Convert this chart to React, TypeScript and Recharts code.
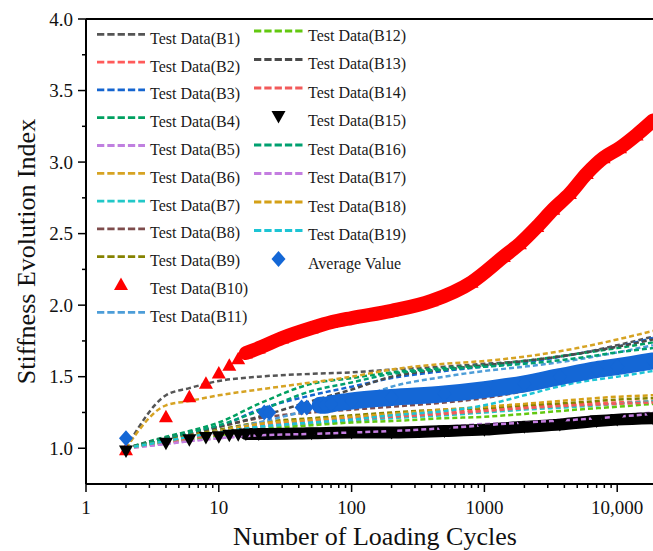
import React from "react";
import { ComposedChart, Line, XAxis, YAxis, ReferenceLine, Label } from "recharts";

// Loading cycles shared by the dashed test curves
const cycles = [2, 4, 6, 10, 20, 50, 100, 200, 500, 1000, 2000, 5000, 10000, 18600];

const b1 = [1.0, 1.37, 1.42, 1.47, 1.5, 1.52, 1.53, 1.55, 1.57, 1.59, 1.61, 1.66, 1.72, 1.78];
const b2 = [1.0, 1.05, 1.07, 1.11, 1.16, 1.19, 1.21, 1.23, 1.25, 1.27, 1.29, 1.31, 1.32, 1.33];
const b3 = [1.0, 1.06, 1.1, 1.15, 1.27, 1.37, 1.43, 1.49, 1.54, 1.57, 1.6, 1.66, 1.71, 1.77];
const b4 = [1.0, 1.08, 1.12, 1.18, 1.31, 1.45, 1.49, 1.53, 1.56, 1.58, 1.61, 1.66, 1.7, 1.74];
const b5 = [1.0, 1.03, 1.05, 1.07, 1.09, 1.11, 1.12, 1.13, 1.15, 1.17, 1.18, 1.21, 1.23, 1.25];
const b6 = [1.0, 1.3, 1.33, 1.37, 1.41, 1.46, 1.5, 1.55, 1.59, 1.61, 1.64, 1.7, 1.76, 1.82];
const b7 = [1.0, 1.05, 1.07, 1.1, 1.14, 1.17, 1.19, 1.21, 1.23, 1.25, 1.27, 1.29, 1.31, 1.33];
const b8 = [1.0, 1.07, 1.1, 1.15, 1.21, 1.25, 1.27, 1.29, 1.32, 1.35, 1.4, 1.48, 1.55, 1.6];
const b9 = [1.0, 1.06, 1.09, 1.13, 1.18, 1.21, 1.23, 1.25, 1.27, 1.28, 1.3, 1.32, 1.34, 1.35];
const b11 = [1.0, 1.05, 1.08, 1.12, 1.18, 1.27, 1.33, 1.43, 1.5, 1.54, 1.57, 1.62, 1.67, 1.72];
const b12 = [1.0, 1.04, 1.06, 1.09, 1.13, 1.16, 1.18, 1.19, 1.21, 1.22, 1.24, 1.27, 1.29, 1.31];
const b13 = [1.0, 1.07, 1.11, 1.15, 1.22, 1.33, 1.41, 1.5, 1.55, 1.58, 1.61, 1.66, 1.71, 1.76];
const b14 = [1.0, 1.04, 1.07, 1.1, 1.15, 1.18, 1.2, 1.22, 1.24, 1.26, 1.28, 1.3, 1.31, 1.32];
const b16 = [1.0, 1.07, 1.11, 1.16, 1.26, 1.4, 1.46, 1.52, 1.55, 1.57, 1.59, 1.63, 1.67, 1.7];
const b17 = [1.0, 1.03, 1.05, 1.07, 1.09, 1.1, 1.11, 1.12, 1.14, 1.16, 1.18, 1.2, 1.22, 1.24];
const b18 = [1.0, 1.05, 1.08, 1.12, 1.17, 1.2, 1.22, 1.24, 1.27, 1.29, 1.31, 1.34, 1.36, 1.37];
const b19 = [1.0, 1.05, 1.08, 1.11, 1.15, 1.18, 1.2, 1.23, 1.26, 1.3, 1.37, 1.46, 1.5, 1.54];

// B10 (red triangles)
const b10Cycles = [2, 4, 6, 8, 10, 12, 14, 16, 20, 30, 50, 70, 100, 200, 400, 800, 1400, 1850, 2500, 3300, 4400, 5900, 7900, 10500, 14000, 18600];
const b10 = [0.99, 1.22, 1.36, 1.455, 1.525, 1.58, 1.625, 1.665, 1.7, 1.77, 1.84, 1.88, 1.91, 1.96, 2.03, 2.16, 2.34, 2.43, 2.55, 2.67, 2.78, 2.92, 3.03, 3.1, 3.19, 3.29];

// B15 (black down triangles)
const b15Cycles = [2, 4, 6, 8, 10, 12, 14, 16, 20, 50, 100, 200, 500, 1000, 2000, 3700, 7000, 10000, 18600];
const b15 = [0.98, 1.035, 1.06, 1.075, 1.08, 1.09, 1.095, 1.1, 1.1, 1.105, 1.11, 1.11, 1.12, 1.13, 1.15, 1.165, 1.19, 1.2, 1.21];

// Average value (blue diamonds)
const avgCycles = [2, 22, 24, 42, 46, 58, 63, 70, 100, 200, 500, 1000, 2000, 3700, 7000, 10000, 18600];
const avg = [1.07, 1.25, 1.25, 1.285, 1.285, 1.3, 1.3, 1.31, 1.33, 1.355, 1.38, 1.41, 1.45, 1.5, 1.55, 1.57, 1.61];

const xLabels: Record<number, string> = { 1: "1", 10: "10", 100: "100", 1000: "1000", 10000: "10,000" };
const yTicks = [1.0, 1.25, 1.5, 1.75, 2.0, 2.25, 2.5, 2.75, 3.0, 3.25, 3.5, 3.75, 4.0];

const xTicks: number[] = [];
for (const decade of [1, 10, 100, 1000]) {
  for (let k = 1; k < 10; k++) xTicks.push(decade * k);
}
xTicks.push(10000);

const FONT = "'Liberation Serif', 'Times New Roman', serif";

const toPoints = (ns: number[], vs: number[]) => ns.map((n, i) => ({ n, v: vs[i] }));

type Kind = "dash" | "up" | "down" | "diamond";
interface Item {
  name: string;
  kind: Kind;
  color: string;
  data: { n: number; v: number }[];
  band?: number; // index where the dense band starts
  width?: number;
}

const dash = (name: string, color: string, vs: number[]): Item => ({
  name,
  kind: "dash",
  color,
  data: toPoints(cycles, vs),
});

// Plot order (later items on top)
const items: Item[] = [
  dash("Test Data(B1)", "#555555", b1),
  dash("Test Data(B2)", "#ff5a5a", b2),
  dash("Test Data(B3)", "#1565d0", b3),
  dash("Test Data(B4)", "#00a060", b4),
  dash("Test Data(B5)", "#c080e0", b5),
  dash("Test Data(B6)", "#d6a323", b6),
  dash("Test Data(B7)", "#22c8c8", b7),
  dash("Test Data(B8)", "#7e4c4c", b8),
  dash("Test Data(B9)", "#858200", b9),
  { name: "Test Data(B10)", kind: "up", color: "#ff0000", data: toPoints(b10Cycles, b10), band: 7, width: 14 },
  dash("Test Data(B11)", "#4d9dd8", b11),
  dash("Test Data(B12)", "#62c810", b12),
  dash("Test Data(B13)", "#4a4a4a", b13),
  dash("Test Data(B14)", "#f25a5a", b14),
  { name: "Test Data(B15)", kind: "down", color: "#000000", data: toPoints(b15Cycles, b15), band: 7, width: 12 },
  dash("Test Data(B16)", "#00a070", b16),
  dash("Test Data(B17)", "#c47ee0", b17),
  dash("Test Data(B18)", "#d4a017", b18),
  dash("Test Data(B19)", "#1cc4d4", b19),
  { name: "Average Value", kind: "diamond", color: "#1467d6", data: toPoints(avgCycles, avg), band: 5, width: 17 },
];

function marker(kind: Kind, cx: number, cy: number, color: string, key?: React.Key) {
  let pts = "";
  if (kind === "up") pts = `${cx},${cy - 7} ${cx + 7},${cy + 5.5} ${cx - 7},${cy + 5.5}`;
  else if (kind === "down") pts = `${cx},${cy + 7} ${cx + 7},${cy - 5.5} ${cx - 7},${cy - 5.5}`;
  else pts = `${cx},${cy - 8} ${cx + 7},${cy} ${cx},${cy + 8} ${cx - 7},${cy}`;
  return <polygon key={key} points={pts} fill={color} />;
}

function XTick({ x, y, payload }: any) {
  const label = xLabels[payload.value];
  const major = label !== undefined;
  return (
    <g>
      <line x1={x} x2={x} y1={y} y2={y + (major ? 8 : 4)} stroke="#000" strokeWidth={1.5} />
      {major && (
        <text x={x} y={y + 30} textAnchor="middle" fontSize={19} fontFamily={FONT} fill="#111">
          {label}
        </text>
      )}
    </g>
  );
}

function YTick({ x, y, payload }: any) {
  const v = payload.value as number;
  const major = Math.abs(v * 2 - Math.round(v * 2)) < 1e-6;
  return (
    <g>
      <line x1={x - (major ? 8 : 4)} x2={x} y1={y} y2={y} stroke="#000" strokeWidth={1.5} />
      {major && (
        <text x={x - 13} y={y + 6.5} textAnchor="end" fontSize={19} fontFamily={FONT} fill="#111">
          {v.toFixed(1)}
        </text>
      )}
    </g>
  );
}

function XTitle({ viewBox }: any) {
  return (
    <text x={viewBox.x + 289} y={viewBox.y + 61} textAnchor="middle" fontSize={26} fontFamily={FONT} fill="#111">
      Number of Loading Cycles
    </text>
  );
}

function YTitle({ viewBox }: any) {
  const cx = 35;
  const cy = viewBox.y + viewBox.height / 2;
  return (
    <text
      x={cx}
      y={cy}
      transform={`rotate(-90, ${cx}, ${cy})`}
      textAnchor="middle"
      fontSize={26}
      fontFamily={FONT}
      fill="#111"
    >
      Stiffness Evolution Index
    </text>
  );
}

function renderSeries(it: Item) {
  if (it.kind === "dash") {
    return (
      <Line
        key={it.name}
        data={it.data}
        dataKey="v"
        type="monotone"
        stroke={it.color}
        strokeWidth={2.5}
        strokeDasharray="5 3"
        dot={false}
        activeDot={false}
        isAnimationActive={false}
      />
    );
  }
  const sparse = it.data.slice(0, it.band);
  const dense = it.data.slice(it.band);
  const dot = (p: any) => marker(it.kind, p.cx, p.cy, it.color, `${it.name}-${p.index}`);
  return [
    <Line
      key={`${it.name}-sparse`}
      data={sparse}
      dataKey="v"
      stroke="none"
      dot={dot}
      activeDot={false}
      isAnimationActive={false}
    />,
    <Line
      key={`${it.name}-band`}
      data={dense}
      dataKey="v"
      type="monotone"
      stroke={it.color}
      strokeWidth={it.width}
      strokeLinejoin="round"
      strokeLinecap="round"
      dot={dot}
      activeDot={false}
      isAnimationActive={false}
    />,
  ];
}

function LegendOverlay() {
  const col1 = items.slice(0, 11);
  const col2 = items.slice(11);
  const row = (it: Item, x0: number, x1: number, tx: number, y: number) => (
    <g key={it.name}>
      {it.kind === "dash" ? (
        <line x1={x0} x2={x1} y1={y} y2={y} stroke={it.color} strokeWidth={2.8} strokeDasharray="7.3 3" />
      ) : (
        marker(it.kind, (x0 + x1) / 2, y, it.color)
      )}
      <text x={tx} y={y + 9.5} fontSize={16} fontFamily={FONT} fill="#1a1a1a">
        {it.name}
      </text>
    </g>
  );
  return (
    <svg width={653} height={551} style={{ position: "absolute", left: 0, top: 0, pointerEvents: "none" }}>
      {col1.map((it, i) => row(it, 97, 145, 150, 34.3 + 27.8 * i))}
      {col2.map((it, i) => row(it, 254, 303, 308, 31 + 28.5 * i))}
    </svg>
  );
}

export default function App() {
  return (
    <div style={{ position: "fixed", left: 0, top: 0, width: 653, height: 551, background: "#fff" }}>
      <ComposedChart width={653} height={551} margin={{ top: 19, right: 0, bottom: 0, left: 0 }}>
        <XAxis
          dataKey="n"
          type="number"
          scale="log"
          domain={[1, 18600]}
          allowDataOverflow
          ticks={xTicks}
          interval={0}
          height={67}
          tickSize={0}
          tickMargin={0}
          tick={<XTick />}
          tickLine={false}
          axisLine={{ stroke: "#000", strokeWidth: 2 }}
        >
          <Label content={<XTitle />} />
        </XAxis>
        <YAxis
          type="number"
          domain={[0.75, 4.0]}
          allowDataOverflow
          ticks={yTicks}
          interval={0}
          width={86}
          tickSize={0}
          tickMargin={0}
          tick={<YTick />}
          tickLine={false}
          axisLine={{ stroke: "#000", strokeWidth: 2 }}
        >
          <Label content={<YTitle />} />
        </YAxis>
        <ReferenceLine y={4} stroke="#000" strokeWidth={2} />
        {items.map(renderSeries)}
      </ComposedChart>
      <LegendOverlay />
    </div>
  );
}
